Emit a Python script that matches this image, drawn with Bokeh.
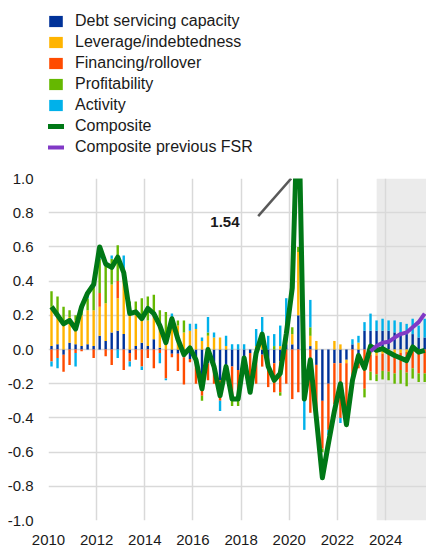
import numpy as np
from bokeh.plotting import figure
from bokeh.layouts import column
from bokeh.models import (Legend, LegendItem, FixedTicker, PrintfTickFormatter,
                          BoxAnnotation, Label, ColumnDataSource)
from bokeh.embed import file_html
from bokeh.resources import INLINE

# ---------------- data (quarterly, 2010Q1 .. 2025Q3) ----------------
start_year = 2010
debt = [0.02, 0.03, -0.03, 0.04, 0.03, 0.02, 0.03, 0.02, 0.08, 0.05, 0.10, 0.11, 0.09, -0.02, 0.02, 0.04,
        0.02, 0.06, 0.01, 0.0, -0.025, -0.025, -0.045, -0.055, -0.08, -0.20, -0.08, -0.12, -0.18, -0.10, -0.10, -0.12,
        -0.05, -0.02, 0.0, -0.03, -0.07, -0.08, -0.07, 0.03, 0.03, 0.20, -0.04, 0.02, -0.09, -0.30, -0.20, -0.08,
        -0.08, -0.06, 0.03, -0.03, 0.11, 0.11, 0.11, 0.11, 0.11, 0.10, 0.10, 0.09, 0.09, 0.07, 0.07]
leverage = [0.23, 0.18, 0.17, 0.15, 0.14, 0.18, 0.20, 0.21, 0.17, 0.22, 0.28, 0.19, 0.38, 0.22, 0.20, 0.15,
            0.15, 0.15, 0.14, 0.06, 0.18, 0.14, 0.10, 0.11, 0.12, 0.05, 0.08, 0.07, 0.07, 0.02, 0.0, 0.0,
            0.0, 0.0, 0.02, 0.04, 0.0, 0.0, 0.02, 0.02, 0.06, 0.37, 0.0, 0.06, 0.05, 0.0, 0.0, 0.05,
            0.03, -0.02, 0.0, 0.04, 0.0, -0.03, -0.035, -0.025, -0.02, -0.02, -0.02, -0.015, -0.01, 0.0, 0.0]
financing = [-0.07, -0.05, -0.10, -0.09, -0.02, -0.01, 0.0, -0.05, 0.08, -0.04, -0.09, 0.10, -0.12, -0.05, -0.06, -0.10,
             -0.05, -0.11, -0.02, -0.17, -0.02, -0.10, -0.16, -0.02, -0.12, -0.07, -0.10, -0.08, -0.12, -0.06, -0.20, -0.18,
             -0.09, -0.18, -0.20, -0.07, -0.15, -0.17, -0.18, -0.20, -0.29, -0.25, -0.25, -0.37, -0.31, -0.28, -0.27, -0.24,
             -0.32, -0.37, -0.22, -0.08, -0.23, -0.10, -0.11, -0.10, -0.11, -0.12, -0.10, -0.12, -0.10, -0.14, -0.14]
profitability = [0.09, 0.10, 0.08, 0.04, 0.03, 0.06, 0.07, 0.18, 0.20, 0.25, 0.15, 0.21, 0.0, 0.06, 0.06, 0.11,
                 0.14, 0.11, 0.08, 0.16, 0.0, 0.03, 0.07, 0.0, 0.0, -0.03, 0.02, 0.0, 0.0, 0.0, -0.03, -0.03,
                 0.0, 0.0, 0.0, 0.0, 0.0, 0.02, -0.02, 0.0, 0.04, 0.03, 0.0, 0.05, 0.0, -0.02, 0.0, 0.0,
                 0.0, 0.0, 0.0, 0.0, -0.05, -0.05, -0.04, -0.05, -0.05, -0.06, -0.08, -0.08, -0.06, -0.05, -0.05]
activity = [-0.03, -0.06, 0.0, 0.0, -0.08, 0.0, 0.03, 0.0, 0.04, 0.0, 0.02, -0.05, 0.08, -0.03, 0.0, -0.02,
            0.0, 0.0, -0.06, -0.01, 0.03, 0.0, 0.0, 0.04, 0.03, 0.02, 0.09, 0.03, -0.06, 0.06, 0.03, 0.03,
            0.03, -0.03, 0.10, 0.15, 0.08, 0.07, 0.12, 0.25, 0.0, 0.0, -0.18, 0.16, 0.0, 0.0, -0.03, 0.0,
            -0.03, 0.0, 0.03, 0.04, 0.05, 0.10, 0.06, 0.07, 0.06, 0.07, 0.06, 0.06, 0.09, 0.07, 0.11]
composite = [0.25, 0.20, 0.15, 0.17, 0.12, 0.25, 0.33, 0.38, 0.60, 0.50, 0.48, 0.54, 0.45, 0.21, 0.22, 0.18,
             0.24, 0.21, 0.14, 0.04, 0.18, 0.06, -0.03, 0.01, -0.06, -0.23, 0.0, -0.10, -0.27, -0.10, -0.29, -0.29,
             -0.05, -0.25, -0.02, 0.09, -0.10, -0.18, -0.14, 0.09, 0.36, 1.54, -0.29, -0.06, -0.40, -0.75, -0.55, -0.36,
             -0.20, -0.44, -0.18, -0.035, -0.11, 0.02, -0.005, 0.005, -0.016, -0.035, -0.05, -0.065, 0.015, -0.016, -0.005]
prev_fsr_start = 53  # index of 2023Q2
prev_fsr = [-0.01, 0.02, 0.04, 0.045, 0.07, 0.09, 0.10, 0.13, 0.16, 0.21]

series_names = ["Debt servicing capacity", "Leverage/indebtedness", "Financing/rollover",
                "Profitability", "Activity"]
series_values = [debt, leverage, financing, profitability, activity]
series_colors = ["#003299", "#FFB400", "#FF4B00", "#65B800", "#00B1EA"]
comp_color = "#007816"
prev_color = "#8139C6"

n = len(composite)
xq = np.array([start_year + (i + 0.5) / 4 for i in range(n)])

FONT = "Liberation Sans"
TXT = "#1a1a1a"

# ---------------- main chart ----------------
p = figure(width=426, height=379, x_range=(2010, 2025.7), y_range=(-1.0, 1.0),
           output_backend="svg", toolbar_location=None,
           min_border_left=48, min_border_right=0, min_border_top=10, min_border_bottom=27)
p.outline_line_color = None
p.background_fill_color = "white"

shade = BoxAnnotation(left=2023.63, fill_color="#ebebeb", fill_alpha=1.0, line_color=None, level="image")
p.add_layout(shade)

pos_base = np.zeros(n)
neg_base = np.zeros(n)
for name, vals, col in zip(series_names, series_values, series_colors):
    v = np.array(vals, dtype=float)
    bottom = np.where(v >= 0, pos_base, neg_base + v)
    top = np.where(v >= 0, pos_base + v, neg_base)
    pos_base = pos_base + np.where(v >= 0, v, 0)
    neg_base = neg_base + np.where(v < 0, v, 0)
    src = ColumnDataSource(dict(x=xq, bottom=bottom, top=top))
    p.vbar(x="x", bottom="bottom", top="top", width=0.1, source=src,
           fill_color=col, line_color=None)

p.line(xq, composite, line_color=comp_color, line_width=5, line_join="round")
p.line(xq[prev_fsr_start:prev_fsr_start + len(prev_fsr)], prev_fsr,
       line_color=prev_color, line_width=4, line_join="round")

# annotation of the off-scale peak
p.add_layout(Label(x=2016.72, y=0.745, text="%.2f" % max(composite),
                   text_font=FONT, text_font_style="bold", text_font_size="15px",
                   text_color=TXT, text_baseline="middle", text_align="left"))
p.segment(x0=[2018.71], y0=[0.78], x1=[2020.08], y1=[1.0], line_color="#595959", line_width=2.5)

yticks = [round(-1.0 + 0.2 * k, 1) for k in range(11)]
xticks = list(range(2010, 2025, 2))
p.xaxis.ticker = FixedTicker(ticks=xticks)
p.yaxis.ticker = FixedTicker(ticks=yticks)
p.xaxis.formatter = PrintfTickFormatter(format="%d")
p.yaxis.formatter = PrintfTickFormatter(format="%.1f")
for ax in (p.xaxis, p.yaxis):
    ax.axis_line_color = None
    ax.major_tick_line_color = None
    ax.minor_tick_line_color = None
    ax.major_label_text_font = FONT
    ax.major_label_text_font_size = "15px"
    ax.major_label_text_color = TXT
p.yaxis.major_tick_out = 0
p.yaxis.major_tick_in = 0
p.yaxis.minor_tick_out = 0
p.yaxis.major_label_standoff = 15
p.xaxis.major_label_standoff = 8
p.xgrid.ticker = FixedTicker(ticks=xticks)
p.ygrid.ticker = FixedTicker(ticks=yticks)
for g in (p.xgrid, p.ygrid):
    g.grid_line_color = "#d9d9d9"
    g.grid_line_width = 1.5

# ---------------- legend panel (above the chart) ----------------
lg = figure(width=426, height=168, x_range=(0, 1), y_range=(0, 1),
            output_backend="svg", toolbar_location=None,
            x_axis_location=None, y_axis_location=None,
            min_border_left=0, min_border_right=0, min_border_top=0, min_border_bottom=0)
lg.outline_line_color = None
lg.xgrid.visible = False
lg.ygrid.visible = False
nan = [float("nan")]
items = []
for name, col in zip(series_names, series_colors):
    r = lg.vbar(x=nan, top=nan, width=0.1, fill_color=col, line_color=None)
    items.append(LegendItem(label=name, renderers=[r]))
r = lg.line(x=nan, y=nan, line_color=comp_color, line_width=5)
items.append(LegendItem(label="Composite", renderers=[r]))
r = lg.line(x=nan, y=nan, line_color=prev_color, line_width=4)
items.append(LegendItem(label="Composite previous FSR", renderers=[r]))

legend = Legend(items=items, location=(-1, 12), orientation="vertical",
                glyph_width=17, glyph_height=14, label_height=14, label_standoff=11,
                spacing=3, padding=0, margin=0, border_line_color=None,
                background_fill_alpha=0.0, label_text_font=FONT,
                label_text_font_size="16px", label_text_color=TXT)
lg.add_layout(legend, "center")

layout = column(lg, p, spacing=0)
open("out.html", "w").write(file_html(layout, INLINE))
